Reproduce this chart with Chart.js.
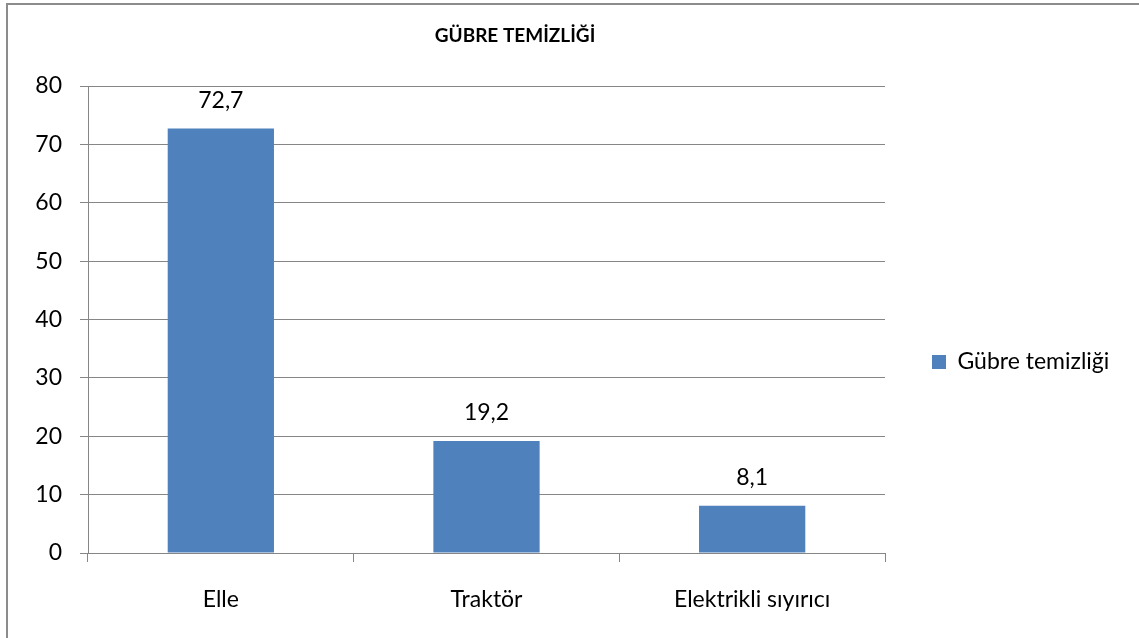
<!DOCTYPE html>
<html>
<head>
<meta charset="utf-8">
<script src="https://cdn.jsdelivr.net/npm/chart.js@4.4.1/dist/chart.umd.min.js"></script>
<style>
  html, body { margin: 0; padding: 0; background: #fff; }
  #wrap { width: 1139px; height: 638px; }
</style>
</head>
<body>
<div id="wrap"><canvas id="chart"></canvas></div>
<script>
// chart data
const chartTitle = 'GÜBRE TEMİZLİĞİ';
const categories = ['Elle', 'Traktör', 'Elektrikli sıyırıcı'];
const seriesName = 'Gübre temizliği';
const seriesValues = [72.7, 19.2, 8.1];
const yTicks = [0, 10, 20, 30, 40, 50, 60, 70, 80];

const FONT = 'Lato, "Open Sans", sans-serif';
const gridGray = '#868686';

// frame + title + value labels
const decorations = {
  id: 'decorations',
  afterDraw(chart) {
    const ctx = chart.ctx;
    ctx.save();
    ctx.strokeStyle = '#8c8c8c';
    ctx.lineWidth = 2;
    ctx.strokeRect(7, 4, 1300, 1000);

    ctx.fillStyle = '#000';
    ctx.font = 'bold 19px ' + FONT;
    ctx.textAlign = 'center';
    ctx.textBaseline = 'middle';
    ctx.fillText(chartTitle, 515, 36);

    ctx.font = '23px ' + FONT;
    ctx.textBaseline = 'middle';
    const meta = chart.getDatasetMeta(0);
    meta.data.forEach((bar, i) => {
      ctx.fillText(String(seriesValues[i]).replace('.', ','), bar.x, bar.y - 28);
    });
    ctx.restore();
  }
};

// pin the legend width so the plot area ends where the reference's does
const legendWidth = {
  id: 'legendWidth',
  afterInit(chart) {
    const lg = chart.legend;
    const fit = lg.fit;
    lg.fit = function () { fit.call(this); this.width = 254; };
  }
};

new Chart(document.getElementById('chart'), {
  type: 'bar',
  data: {
    labels: categories,
    datasets: [{
      label: seriesName,
      data: seriesValues,
      backgroundColor: '#4F81BD',
      borderWidth: 0,
      barPercentage: 0.4,
      categoryPercentage: 1
    }]
  },
  options: {
    responsive: true,
    maintainAspectRatio: false,
    animation: false,
    layout: { padding: { top: 86, left: 0, right: 0, bottom: 0 } },
    plugins: {
      title: { display: false },
      tooltip: { enabled: false },
      legend: {
        position: 'right',
        labels: {
          font: { family: FONT, size: 23 },
          color: '#000',
          boxWidth: 14,
          boxHeight: 14,
          padding: 47
        }
      }
    },
    scales: {
      x: {
        afterFit(s) { s.height = 85; },
        grid: { offset: true, drawOnChartArea: false, drawTicks: true, tickLength: 9, color: gridGray },
        border: { color: gridGray, width: 1 },
        ticks: { font: { family: FONT, size: 23 }, color: '#000', padding: 24 }
      },
      y: {
        min: 0, max: 80,
        afterFit(s) { s.width = 88; },
        afterBuildTicks(s) { s.ticks = yTicks.map(v => ({ value: v })); },
        grid: { color: gridGray, tickLength: 8 },
        border: { color: gridGray, width: 1 },
        ticks: { font: { family: FONT, size: 23 }, color: '#000', padding: 18 }
      }
    }
  },
  plugins: [decorations, legendWidth]
});
</script>
</body>
</html>
